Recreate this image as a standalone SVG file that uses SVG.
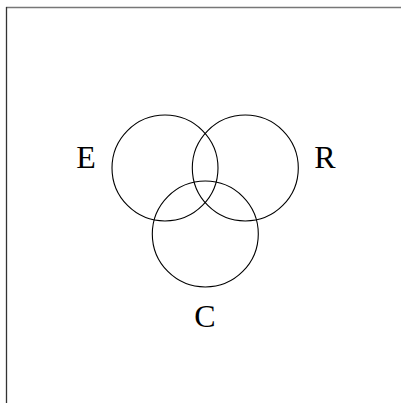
<svg xmlns="http://www.w3.org/2000/svg" width="401" height="403" viewBox="0 0 401 403">
<style>
.c{fill:none;stroke:#000;stroke-width:1.1}
.t{font-family:"Liberation Serif",serif;font-size:32px;fill:#000;text-anchor:middle}
</style>
<rect width="401" height="403" fill="#fff"/>
<path d="M6 7.5H401" fill="none" stroke="#777" stroke-width="1.5"/>
<path d="M6.5 7V403" fill="none" stroke="#333" stroke-width="1.3"/>
<g id="E"><circle class="c" cx="165" cy="168" r="53"/><text class="t" x="86" y="168">E</text></g>
<g id="R"><circle class="c" cx="245.3" cy="168" r="53"/><text class="t" x="325" y="168">R</text></g>
<g id="C"><circle class="c" cx="205.3" cy="234" r="53"/><text class="t" x="205" y="327">C</text></g>
<g id="connectors"></g>
</svg>
